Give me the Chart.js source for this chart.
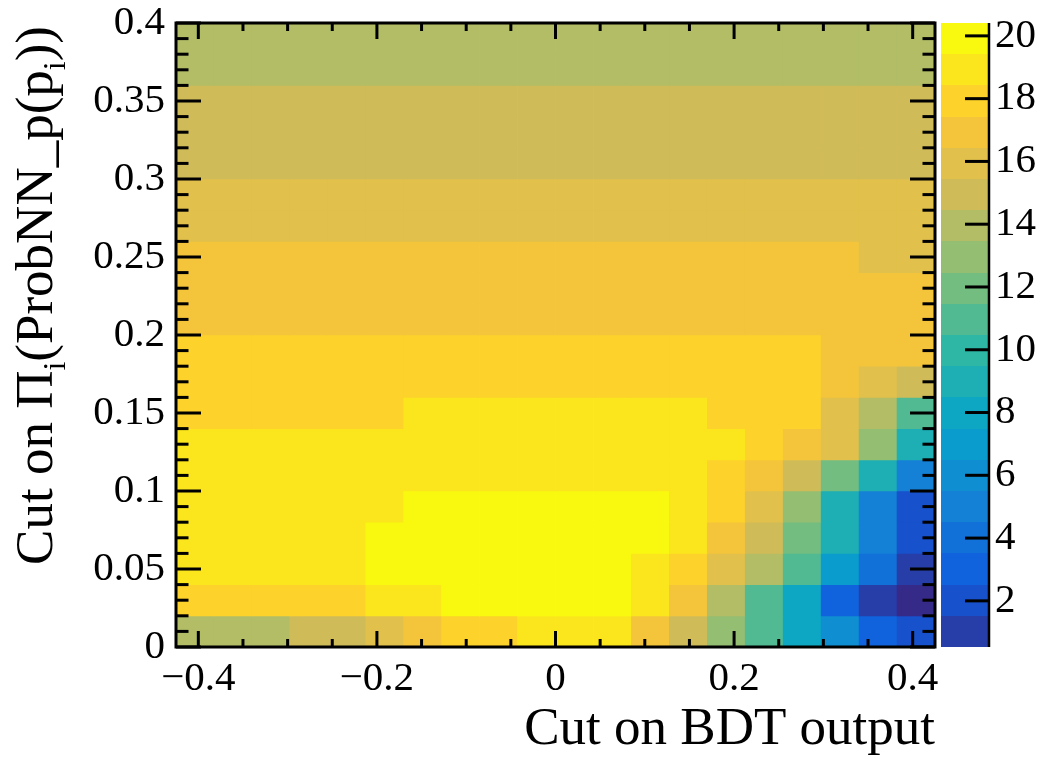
<!DOCTYPE html>
<html>
<head>
<meta charset="utf-8">
<title>BDT vs ProbNN cut scan</title>
<script src="https://cdn.jsdelivr.net/npm/chart.js@4.4.1/dist/chart.umd.min.js"></script>
<style>
  html, body { margin: 0; padding: 0; background: #fff; }
  #box { width: 1046px; height: 762px; }
</style>
</head>
<body>
<div id="box"><canvas id="cutScan"></canvas></div>
<script>
// binning of the 2D scan
const xEdges = [-0.425, -0.3825, -0.34, -0.2975, -0.255, -0.2125, -0.17, -0.1275, -0.085, -0.0425, 0,
                0.0425, 0.085, 0.1275, 0.17, 0.2125, 0.255, 0.2975, 0.34, 0.3825, 0.425];
const yEdges = [0, 0.02, 0.04, 0.06, 0.08, 0.1, 0.12, 0.14, 0.16, 0.18, 0.2,
                0.22, 0.24, 0.26, 0.28, 0.3, 0.32, 0.34, 0.36, 0.38, 0.4];

// figure of merit per cell, one row per ProbNN cut (lowest cut first), columns follow xEdges
const zRows = [
  [14, 14, 14, 15, 15, 16, 17, 18, 18, 19, 19, 19, 17, 15, 13, 11, 8, 6, 3, 2],
  [18, 18, 18, 18, 18, 19, 19, 20, 20, 20, 20, 20, 19, 17, 14, 11, 8, 3, 1, 0.4],
  [19, 19, 19, 19, 19, 20, 20, 20, 20, 20, 20, 20, 19, 18, 16, 14, 11, 7, 4, 1],
  [19, 19, 19, 19, 19, 20, 20, 20, 20, 20, 20, 20, 20, 19, 17, 15, 12, 9, 5, 2],
  [19, 19, 19, 19, 19, 19, 20, 20, 20, 20, 20, 20, 20, 19, 18, 16, 13, 9, 5, 2],
  [19, 19, 19, 19, 19, 19, 19, 19, 19, 19, 19, 19, 19, 19, 18, 17, 15, 12, 9, 5],
  [19, 19, 19, 19, 19, 19, 19, 19, 19, 19, 19, 19, 19, 19, 19, 18, 17, 16, 13, 9],
  [18, 18, 18, 18, 18, 18, 19, 19, 19, 19, 19, 19, 19, 19, 18, 18, 18, 16, 14, 11],
  [18, 18, 18, 18, 18, 18, 18, 18, 18, 18, 18, 18, 18, 18, 18, 18, 18, 17, 16, 15],
  [18, 18, 18, 18, 18, 18, 18, 18, 18, 18, 18, 18, 18, 18, 18, 18, 18, 17, 17, 17],
  [17, 17, 17, 17, 17, 17, 17, 17, 17, 17, 17, 17, 17, 17, 17, 17, 17, 17, 17, 17],
  [17, 17, 17, 17, 17, 17, 17, 17, 17, 17, 17, 17, 17, 17, 17, 17, 17, 17, 17, 17],
  [17, 17, 17, 17, 17, 17, 17, 17, 17, 17, 17, 17, 17, 17, 17, 17, 17, 17, 16, 16],
  [16, 16, 16, 16, 16, 16, 16, 16, 16, 16, 16, 16, 16, 16, 16, 16, 16, 16, 16, 16],
  [16, 16, 16, 16, 16, 16, 16, 16, 16, 16, 16, 16, 16, 16, 16, 16, 16, 16, 16, 16],
  [15, 15, 15, 15, 15, 15, 15, 15, 15, 15, 15, 15, 15, 15, 15, 15, 15, 15, 15, 15],
  [15, 15, 15, 15, 15, 15, 15, 15, 15, 15, 15, 15, 15, 15, 15, 15, 15, 15, 15, 15],
  [15, 15, 15, 15, 15, 15, 15, 15, 15, 15, 15, 15, 15, 15, 15, 15, 15, 15, 15, 15],
  [14, 14, 14, 14, 14, 14, 14, 14, 14, 14, 14, 14, 14, 14, 14, 14, 14, 14, 14, 14],
  [14, 14, 14, 14, 14, 14, 14, 14, 14, 14, 14, 14, 14, 14, 14, 14, 14, 14, 14, 14]
];

// colour axis range and tick labels
const zMin = 0.53, zMax = 20.41, nContours = 20;
const xMajor = [-0.4, -0.2, 0, 0.2, 0.4];
const yMajor = [0, 0.05, 0.1, 0.15, 0.2, 0.25, 0.3, 0.35, 0.4];
const zMajor = [2, 4, 6, 8, 10, 12, 14, 16, 18, 20];

// kBird palette stops (same as ROOT)
const birdStops = [0, 0.125, 0.25, 0.375, 0.5, 0.625, 0.75, 0.875, 1];
const birdR = [0.2082, 0.0592, 0.0780, 0.0232, 0.1802, 0.5301, 0.8186, 0.9956, 0.9764];
const birdG = [0.1664, 0.3599, 0.5041, 0.6419, 0.7178, 0.7492, 0.7328, 0.7862, 0.9832];
const birdB = [0.5293, 0.8684, 0.8385, 0.7914, 0.6425, 0.4662, 0.3499, 0.1968, 0.0539];

const serif = '"Liberation Serif", "Times New Roman", serif';
const dz = (zMax - zMin) / nContours;

function birdColour(f) {
  let k = 1;
  while (k < birdStops.length - 1 && f > birdStops[k]) k++;
  const t = (f - birdStops[k - 1]) / (birdStops[k] - birdStops[k - 1]);
  const mix = a => Math.round(255 * (a[k - 1] + (a[k] - a[k - 1]) * t));
  return `rgb(${mix(birdR)}, ${mix(birdG)}, ${mix(birdB)})`;
}

// contour band -> one of 255 palette entries, like COLZ does
function bandColour(band) {
  const b = Math.min(band, nContours - 1);
  const idx = b < 0 ? 0 : Math.trunc((b + 0.99) * 255 / nContours);
  return birdColour(idx / 255);
}

const contourColour = z => bandColour(Math.floor((z - zMin) / dz));

const cells = [];
zRows.forEach((row, r) => {
  row.forEach((z, c) => {
    cells.push({ x: [xEdges[c], xEdges[c + 1]], y: (yEdges[r] + yEdges[r + 1]) / 2, z: z });
  });
});

// frame, inner ticks, colour palette and the y title with subscripts
const rootStyle = {
  id: 'rootStyle',
  afterDatasetsDraw(chart) {
    const { ctx, chartArea: a, scales: { x, y, z } } = chart;
    const line = (x1, y1, x2, y2) => { ctx.beginPath(); ctx.moveTo(x1, y1); ctx.lineTo(x2, y2); ctx.stroke(); };
    ctx.save();
    ctx.strokeStyle = '#000';
    ctx.lineWidth = 3;

    for (let k = -8; k <= 8; k++) {
      const px = x.getPixelForValue(k * 0.05);
      const len = k % 4 === 0 ? 16 : 8;
      line(px, a.bottom, px, a.bottom - len);
      line(px, a.top, px, a.top + len);
    }
    for (let k = 0; k <= 40; k++) {
      const py = y.getPixelForValue(k * 0.01);
      const len = k % 5 === 0 ? 25 : 12.5;
      line(a.left, py, a.left + len, py);
      line(a.right, py, a.right - len, py);
    }
    ctx.strokeRect(a.left, a.top, a.right - a.left, a.bottom - a.top);

    // palette
    const pl = Math.round(z.left + 6), pr = Math.round(z.left + 54);
    for (let b = 0; b < nContours; b++) {
      const lo = Math.round(z.getPixelForValue(zMin + b * dz));
      const hi = Math.round(z.getPixelForValue(zMin + (b + 1) * dz));
      ctx.fillStyle = bandColour(b);
      ctx.fillRect(pl, hi, pr - pl, lo - hi);
    }
    ctx.lineWidth = 2.5;
    line(pr, z.getPixelForValue(zMax), pr, z.getPixelForValue(zMin));
    ctx.lineWidth = 3;
    zMajor.forEach(v => {
      const py = z.getPixelForValue(v);
      line(pr, py, pr - 24, py);
    });

    // y title, right-aligned at the top of the axis
    const parts = [['Cut on \u03A0', false], ['i', true], ['(ProbNN_p(p', false], ['i', true], ['))', false]];
    const bigFont = `53px ${serif}`, subFont = `32px ${serif}`;
    let total = 0;
    parts.forEach(([t, sub]) => { ctx.font = sub ? subFont : bigFont; total += ctx.measureText(t).width; });
    ctx.translate(52, a.top + 3);
    ctx.rotate(-Math.PI / 2);
    ctx.fillStyle = '#000';
    ctx.textAlign = 'left';
    ctx.textBaseline = 'alphabetic';
    let cx = -total;
    parts.forEach(([t, sub]) => {
      ctx.font = sub ? subFont : bigFont;
      ctx.fillText(t, cx, sub ? 13 : 0);
      cx += ctx.measureText(t).width;
    });
    ctx.restore();
  }
};

new Chart(document.getElementById('cutScan'), {
  type: 'bar',
  data: {
    datasets: [{
      data: cells,
      xAxisID: 'x',
      yAxisID: 'y',
      backgroundColor: c => contourColour(c.raw.z),
      borderWidth: 0,
      borderSkipped: false,
      barPercentage: 1,
      categoryPercentage: 1,
      grouped: false
    }]
  },
  options: {
    indexAxis: 'y',
    responsive: true,
    maintainAspectRatio: false,
    animation: false,
    events: [],
    layout: { padding: { top: 23, left: 0, right: 0, bottom: 0 } },
    plugins: {
      legend: { display: false },
      tooltip: { enabled: false }
    },
    scales: {
      x: {
        type: 'linear',
        position: 'bottom',
        min: xEdges[0],
        max: xEdges[xEdges.length - 1],
        offset: false,
        grid: { display: false, drawTicks: true, tickLength: 8, offset: false },
        border: { display: false },
        afterBuildTicks: s => { s.ticks = xMajor.map(v => ({ value: v })); },
        afterFit: s => { s.height = 115; },
        ticks: {
          autoSkip: false,
          maxRotation: 0,
          padding: 0,
          color: '#000',
          font: { family: serif, size: 41 },
          callback: v => (v < 0 ? '\u2212' : '') + Math.abs(v)
        },
        title: {
          display: true,
          text: 'Cut on BDT output',
          align: 'end',
          color: '#000',
          font: { family: serif, size: 53 },
          padding: 0
        }
      },
      y: {
        type: 'linear',
        position: 'left',
        min: yEdges[0],
        max: yEdges[yEdges.length - 1],
        offset: false,
        grid: { display: false, drawTicks: true, tickLength: 11, offset: false },
        border: { display: false },
        afterBuildTicks: s => { s.ticks = yMajor.map(v => ({ value: v })); },
        afterFit: s => { s.width = 176; },
        ticks: {
          autoSkip: false,
          padding: 0,
          color: '#000',
          font: { family: serif, size: 41, lineHeight: 1 },
          callback: v => String(v)
        }
      },
      z: {
        type: 'linear',
        axis: 'y',
        position: 'right',
        min: zMin,
        max: zMax,
        offset: false,
        grid: { display: false, drawTicks: true, tickLength: 60, offset: false },
        border: { display: false },
        afterBuildTicks: s => { s.ticks = zMajor.map(v => ({ value: v })); },
        afterFit: s => { s.width = 111; },
        ticks: {
          autoSkip: false,
          padding: 0,
          color: '#000',
          font: { family: serif, size: 41, lineHeight: 1 },
          callback: v => String(v)
        }
      }
    }
  },
  plugins: [rootStyle]
});
</script>
</body>
</html>
